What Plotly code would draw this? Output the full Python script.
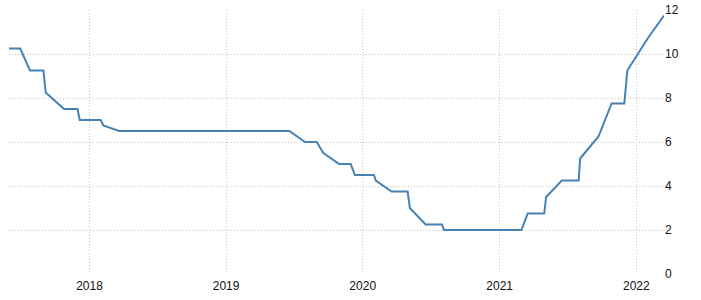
import plotly.graph_objects as go

dates = [
    "2017-05-31", "2017-06-30", "2017-07-26", "2017-08-31", "2017-09-06",
    "2017-10-25", "2017-11-30", "2017-12-06", "2018-01-31", "2018-02-07",
    "2018-03-21", "2019-06-19", "2019-07-31", "2019-08-31", "2019-09-18",
    "2019-10-30", "2019-11-30", "2019-12-11", "2020-01-31", "2020-02-05",
    "2020-03-18", "2020-04-30", "2020-05-06", "2020-06-17", "2020-07-31",
    "2020-08-05", "2021-02-28", "2021-03-17", "2021-04-30", "2021-05-05",
    "2021-06-16", "2021-07-31", "2021-08-04", "2021-09-22", "2021-10-27",
    "2021-11-30", "2021-12-08", "2022-02-02", "2022-03-16",
]
rates = [
    10.25, 10.25, 9.25, 9.25, 8.25,
    7.5, 7.5, 7.0, 7.0, 6.75,
    6.5, 6.5, 6.0, 6.0, 5.5,
    5.0, 5.0, 4.5, 4.5, 4.25,
    3.75, 3.75, 3.0, 2.25, 2.25,
    2.0, 2.0, 2.75, 2.75, 3.5,
    4.25, 4.25, 5.25, 6.25, 7.75,
    7.75, 9.25, 10.75, 11.75,
]
x_ticks = ["2018-01-01", "2019-01-01", "2020-01-01", "2021-01-01", "2022-01-01"]
x_tick_labels = ["2018", "2019", "2020", "2021", "2022"]
y_ticks = [0, 2, 4, 6, 8, 10, 12]

fig = go.Figure()
fig.add_trace(go.Scatter(
    x=dates, y=rates, mode="lines",
    line=dict(color="#4682b4", width=2),
    hoverinfo="x+y", showlegend=False,
))

grid = dict(showgrid=True, gridcolor="#c4c4c4", gridwidth=1, griddash="1px,2px",
            zeroline=False, showline=False, ticks="", automargin=False)
fig.update_layout(
    width=701, height=300,
    margin=dict(l=9, r=37, t=10, b=26),
    paper_bgcolor="white", plot_bgcolor="white",
    font=dict(family="Liberation Sans, Arial, sans-serif", size=12, color="#111"),
    xaxis=dict(range=[dates[0], dates[-1]], tickvals=x_ticks, ticktext=x_tick_labels,
               ticklabelstandoff=3, **grid),
    yaxis=dict(range=[0, 12], tickvals=y_ticks, side="right", **grid),
)
fig.write_html("out.html")
